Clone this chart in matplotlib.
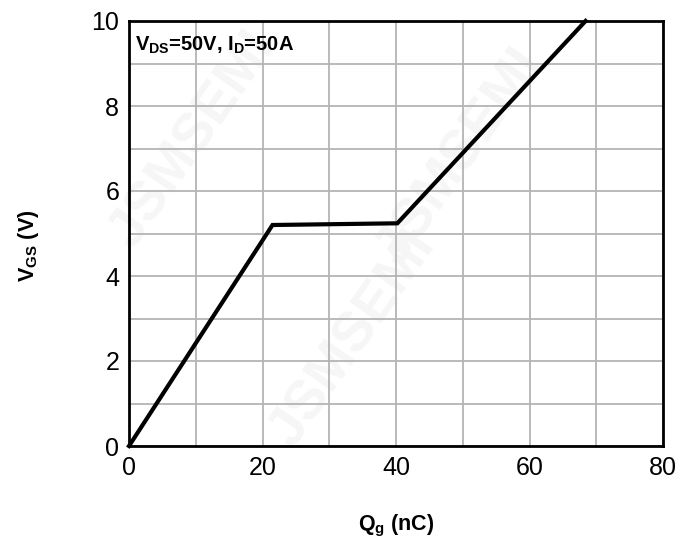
import matplotlib
matplotlib.use("Agg")
import matplotlib.pyplot as plt
import numpy as np

plt.rcParams['font.family'] = ['Liberation Sans', 'DejaVu Sans']
plt.rcParams['mathtext.fontset'] = 'custom'
plt.rcParams['mathtext.bf'] = 'Liberation Sans:weight=bold'
plt.rcParams['mathtext.rm'] = 'Liberation Sans'
plt.rcParams['mathtext.default'] = 'bf'

qg = [0, 21.5, 40.2, 68.4]
vgs = [0, 5.2, 5.24, 10]
x_ticks = [0, 20, 40, 60, 80]
y_ticks = [0, 2, 4, 6, 8, 10]

fig = plt.figure(figsize=(6.94, 5.39), dpi=100)
ax = fig.add_axes([129/694, 1-446/539, (663-129)/694, (446-21)/539])

ax.set_xlim(0, 80)
ax.set_ylim(0, 10)
ax.set_xticks(x_ticks)
ax.set_yticks(y_ticks)
ax.set_xticks(np.arange(0, 81, 10), minor=True)
ax.set_yticks(np.arange(0, 11, 1), minor=True)
ax.grid(which='both', color='#b4b4b4', linewidth=1.3)
ax.set_axisbelow(True)
ax.tick_params(which='both', length=0, labelsize=18, pad=7)
for s in ax.spines.values():
    s.set_linewidth(2)
    s.set_color('black')

# watermark
for (wx, wy) in [(0.12, 0.72), (0.62, 0.68), (0.42, 0.25)]:
    ax.text(wx, wy, 'JSMSEMI', transform=ax.transAxes, rotation=55,
            fontsize=40, color='#f6f6f6', ha='center', va='center',
            fontweight='bold', zorder=0.5)

ax.plot(qg, vgs, color='black', linewidth=3, solid_joinstyle='miter', clip_on=False, zorder=3)

ax.text(0.012, 0.968, r'V$_{DS}$=50V, I$_{D}$=50A', transform=ax.transAxes,
        fontsize=14.5, fontweight='bold', ha='left', va='top')

ax.set_xlabel(r'Q$_{g}$ (nC)', fontsize=15.5, fontweight='bold', labelpad=24)
ax.set_ylabel(r'V$_{GS}$ (V)', fontsize=15.5, fontweight='bold', labelpad=36)
ax.yaxis.label.set_y(0.47)

fig.savefig('out.png', dpi=100, facecolor='white')
